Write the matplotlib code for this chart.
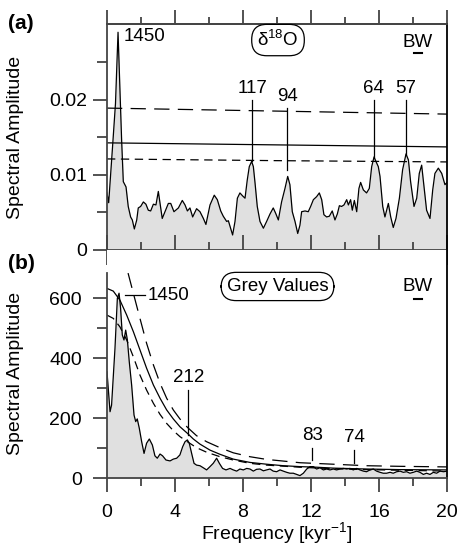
import matplotlib
matplotlib.use('Agg')
import matplotlib.pyplot as plt
from matplotlib.ticker import MultipleLocator

plt.rcParams['font.family'] = ['Liberation Sans', 'DejaVu Sans']
plt.rcParams['mathtext.fontset'] = 'custom'
plt.rcParams['mathtext.rm'] = 'Liberation Sans'
plt.rcParams['mathtext.it'] = 'Liberation Sans:italic'
plt.rcParams['lines.scale_dashes'] = False

# (a) d18O spectrum
freq_a = [0.0, 0.1, 0.2, 0.35, 0.5, 0.65, 0.78, 0.86, 0.96, 1.12, 1.25, 1.39, 1.49, 1.61, 1.75,
          1.84, 1.98, 2.14, 2.29, 2.43, 2.57, 2.73, 2.88, 3.02, 3.12, 3.25, 3.41, 3.61, 3.75,
          3.94, 4.2, 4.43, 4.59, 4.73, 4.88, 5.04, 5.27, 5.47, 5.67, 5.82, 6.06, 6.31, 6.49,
          6.69, 6.84, 7.04, 7.14, 7.27, 7.39, 7.53, 7.67, 7.82, 7.98, 8.12, 8.25, 8.37, 8.51,
          8.61, 8.71, 8.84, 9.0, 9.2, 9.39, 9.59, 9.78, 9.92, 10.08, 10.27, 10.47, 10.63, 10.76,
          10.9, 11.06, 11.22, 11.35, 11.45, 11.65, 11.84, 11.98, 12.14, 12.33, 12.49, 12.63,
          12.76, 12.92, 13.08, 13.25, 13.41, 13.55, 13.67, 13.8, 13.94, 14.1, 14.2, 14.33,
          14.43, 14.55, 14.69, 14.82, 14.92, 15.08, 15.27, 15.43, 15.57, 15.71, 15.82, 15.96,
          16.06, 16.22, 16.35, 16.55, 16.69, 16.84, 17.0, 17.2, 17.39, 17.59, 17.73, 17.86,
          18.06, 18.22, 18.37, 18.51, 18.65, 18.8, 19.0, 19.16, 19.29, 19.49, 19.69, 19.88, 20.0]
amp_a = [0.0076, 0.0063, 0.0095, 0.0145, 0.0195, 0.0290, 0.0200, 0.0147, 0.0091, 0.0084, 0.0058,
         0.0044, 0.0040, 0.0028, 0.0040, 0.0056, 0.0058, 0.0064, 0.0061, 0.0053, 0.0052, 0.0061,
         0.0060, 0.0078, 0.0062, 0.0042, 0.0051, 0.0062, 0.0062, 0.0051, 0.0056, 0.0066, 0.0060,
         0.0052, 0.0056, 0.0044, 0.0055, 0.0051, 0.0042, 0.0034, 0.0060, 0.0073, 0.0067, 0.0052,
         0.0045, 0.0038, 0.0039, 0.0029, 0.0020, 0.0038, 0.0069, 0.0076, 0.0072, 0.0069, 0.0093,
         0.0111, 0.0118, 0.0111, 0.0089, 0.0058, 0.0038, 0.0029, 0.0038, 0.0048, 0.0056, 0.0049,
         0.0040, 0.0064, 0.0082, 0.0098, 0.0087, 0.0051, 0.0038, 0.0022, 0.0033, 0.0051, 0.0052,
         0.0051, 0.0058, 0.0067, 0.0071, 0.0076, 0.0067, 0.0047, 0.0044, 0.0045, 0.0052, 0.0040,
         0.0048, 0.0059, 0.0058, 0.0060, 0.0067, 0.0060, 0.0067, 0.0053, 0.0066, 0.0051, 0.0082,
         0.0090, 0.0080, 0.0076, 0.0082, 0.0111, 0.0124, 0.0118, 0.0111, 0.0098, 0.0058, 0.0044,
         0.0062, 0.0044, 0.0030, 0.0042, 0.0069, 0.0107, 0.0128, 0.0120, 0.0091, 0.0058, 0.0069,
         0.0102, 0.0113, 0.0084, 0.0053, 0.0042, 0.0080, 0.0102, 0.0109, 0.0102, 0.0087, 0.0090]
noise_freq_a = [0, 10, 20]
noise_a = [0.01427, 0.0140, 0.01373]
upper_a = [0.0189, 0.0185, 0.0181]
lower_a = [0.01213, 0.0119, 0.01173]
peaks_a = [('117', 8.55, 0.0119, 0.0200), ('94', 10.6, 0.0107, 0.0189),
           ('64', 15.7, 0.0124, 0.0200), ('57', 17.6, 0.0128, 0.0200)]

# (b) grey value spectrum
freq_b = [0.0, 0.18, 0.27, 0.47, 0.61, 0.71, 0.8, 0.9, 1.0, 1.1, 1.2, 1.31, 1.45, 1.59, 1.69,
          1.78, 1.9, 2.04, 2.18, 2.33, 2.49, 2.67, 2.82, 2.96, 3.12, 3.27, 3.47, 3.71, 3.9, 4.1,
          4.29, 4.45, 4.59, 4.73, 4.84, 4.98, 5.12, 5.27, 5.47, 5.67, 5.86, 6.06, 6.25, 6.45,
          6.61, 6.8, 7.0, 7.24, 7.43, 7.63, 7.82, 8.02, 8.22, 8.41, 8.61, 8.8, 9.0, 9.2, 9.39,
          9.59, 9.78, 9.98, 10.18, 10.37, 10.57, 10.76, 10.96, 11.16, 11.35, 11.55, 11.75, 11.94,
          12.14, 12.33, 12.53, 12.73, 12.92, 13.12, 13.31, 13.51, 13.7, 13.9, 14.1, 14.29, 14.49,
          14.69, 14.88, 15.08, 15.27, 15.47, 15.67, 15.86, 16.06, 16.25, 16.45, 16.65, 16.84,
          17.04, 17.24, 17.43, 17.63, 17.82, 18.02, 18.22, 18.41, 18.61, 18.8, 19.0, 19.2, 19.39,
          19.59, 19.8, 20.0]
amp_b = [354, 221, 243, 432, 599, 616, 566, 477, 460, 493, 460, 388, 310, 210, 188, 197, 166,
         121, 82, 116, 130, 110, 74, 66, 80, 74, 60, 57, 63, 66, 77, 104, 121, 127, 116, 82, 49,
         43, 41, 34, 27, 38, 49, 66, 49, 32, 27, 32, 27, 23, 30, 27, 32, 30, 23, 29, 30, 24, 27,
         30, 23, 21, 27, 23, 19, 16, 16, 12, 8, 16, 30, 38, 38, 30, 34, 27, 30, 27, 30, 27, 30,
         32, 30, 32, 27, 32, 27, 23, 21, 27, 30, 23, 19, 16, 16, 19, 16, 21, 23, 19, 21, 16, 19,
         23, 19, 12, 16, 12, 19, 16, 23, 21, 23]
noise_freq_b = [0.0, 0.37, 0.76, 1.16, 1.55, 1.94, 2.33, 2.73, 3.12, 3.51, 3.9, 4.29, 4.73,
                5.08, 5.47, 6.06, 6.65, 7.43, 8.41, 9.39, 10.37, 11.35, 12.33, 13.31, 15.27,
                17.2, 20.0]
noise_b = [632, 623, 593, 543, 488, 427, 366, 310, 266, 227, 197, 171, 149, 130, 113, 93, 79,
           63, 52, 46, 41, 38, 36, 33, 30, 28, 27]
lower_freq_b = [0.0, 0.37, 0.76, 1.16, 1.55, 1.94, 2.33, 2.73, 3.12, 3.51, 3.9, 4.29, 4.73,
                5.27, 5.86, 6.65, 7.43, 8.41, 9.39, 11.35, 13.31, 15.27, 17.2, 20.0]
lower_b = [543, 532, 504, 460, 404, 343, 293, 249, 212, 182, 158, 138, 121, 101, 86, 71, 60,
           49, 43, 36, 31, 28, 26, 23]
upper_freq_b = [1.24, 1.55, 1.94, 2.33, 2.73, 3.12, 3.51, 3.9, 4.29, 4.73, 5.27, 5.86, 6.65,
                7.43, 8.41, 9.39, 11.35, 13.31, 15.27, 17.2, 20.0]
upper_b = [683, 616, 532, 449, 377, 316, 266, 227, 197, 169, 141, 121, 101, 84, 71, 62, 51,
           46, 41, 39, 37]
peaks_b = [('212', 4.78, 143, 293), ('83', 12.08, 60, 100), ('74', 14.53, 50, 93)]

bw_center = 18.3
bw_width = 0.5

FS = 14
AFS = 13.5
SPINE = '#444444'
FILL = '#e0e0e0'
LONG = (0, (11, 6))
SHORT = (0, (6, 4))
BOX = dict(boxstyle='round,pad=0.3,rounding_size=0.8', fc='white', ec='black', lw=0.9)

fig = plt.figure(figsize=(4.57, 5.48), dpi=100)
ax1 = fig.add_axes([0.2341, 0.5438, 0.7440, 0.4124])
ax2 = fig.add_axes([0.2341, 0.1277, 0.7440, 0.4161])

for ax in (ax1, ax2):
  ax.set_xlim(0, 20)
  ax.xaxis.set_major_locator(MultipleLocator(4))
  ax.xaxis.set_minor_locator(MultipleLocator(2))
  for s in ('left', 'top', 'bottom'):
    ax.spines[s].set_color(SPINE)
    ax.spines[s].set_linewidth(1.3)
  ax.spines['right'].set_linewidth(1.3)
  ax.tick_params(colors=SPINE, labelcolor='black', labelsize=FS, width=1.3)
  ax.tick_params(which='minor', colors=SPINE, width=1.3)
  ax.set_ylabel('Spectral Amplitude', fontsize=FS)

# panel a
ax1.fill_between(freq_a, amp_a, 0, color=FILL, lw=0)
ax1.plot(freq_a, amp_a, color='black', lw=0.9)
ax1.plot(noise_freq_a, noise_a, color='black', lw=0.9)
ax1.plot(noise_freq_a, upper_a, color='black', lw=0.9, linestyle=LONG)
ax1.plot(noise_freq_a, lower_a, color='black', lw=0.9, linestyle=SHORT)
ax1.set_ylim(0, 0.0301)
ax1.set_yticks([0, 0.01, 0.02], ['0', '0.01', '0.02'])
ax1.set_yticks([0.005, 0.015, 0.025], minor=True)
ax1.tick_params(axis='y', which='major', direction='out', length=10, pad=4)
ax1.tick_params(axis='y', which='minor', direction='out', length=7)
ax1.tick_params(axis='x', which='major', direction='inout', length=22, labelbottom=False)
ax1.tick_params(axis='x', which='minor', direction='inout', length=11)
ax1.yaxis.set_label_coords(-0.245, 0.5)

top = ax1.secondary_xaxis('top')
top.xaxis.set_major_locator(MultipleLocator(4))
top.xaxis.set_minor_locator(MultipleLocator(2))
top.spines['top'].set_color(SPINE)
top.spines['top'].set_linewidth(1.3)
top.tick_params(which='major', direction='out', length=10, width=1.3, colors=SPINE,
                labeltop=False)
top.tick_params(which='minor', direction='out', length=5, width=1.3, colors=SPINE)

ax1.text(0.95, 0.0285, '1450', fontsize=AFS, ha='left', va='center')
for label, f, y0, y1 in peaks_a:
  ax1.plot([f, f], [y0, y1], color='black', lw=0.9)
  ax1.text(f, y1 + 0.0004, label, fontsize=AFS, ha='center', va='bottom')
ax1.text(10.06, 0.929, r'δ$^{18}$O', transform=ax1.get_xaxis_transform(), fontsize=AFS,
         ha='center', va='center', bbox=BOX)
ax1.text(18.3, 0.92, 'BW', transform=ax1.get_xaxis_transform(), fontsize=AFS,
         ha='center', va='center')
ax1.plot([bw_center - bw_width / 2, bw_center + bw_width / 2], [0.0262, 0.0262],
         color='black', lw=1.5)

# panel b
ax2.fill_between(freq_b, amp_b, 0, color=FILL, lw=0)
ax2.plot(freq_b, amp_b, color='black', lw=0.9)
ax2.plot(noise_freq_b, noise_b, color='black', lw=0.9)
ax2.plot(upper_freq_b, upper_b, color='black', lw=0.9, linestyle=LONG)
ax2.plot(lower_freq_b, lower_b, color='black', lw=0.9, linestyle=SHORT)
ax2.set_ylim(0, 760)
ax2.spines['top'].set_visible(False)
ax2.spines['left'].set_bounds(0, 683)
ax2.set_yticks([0, 200, 400, 600])
ax2.set_yticks([100, 300, 500], minor=True)
ax2.tick_params(axis='y', which='major', direction='out', length=10, pad=8)
ax2.tick_params(axis='y', which='minor', direction='out', length=7)
ax2.tick_params(axis='x', which='major', direction='out', length=10, pad=9)
ax2.tick_params(axis='x', which='minor', direction='out', length=6)
ax2.yaxis.set_label_coords(-0.245, 0.46)
ax2.set_xlabel('Frequency [kyr$^{-1}$]', fontsize=FS, labelpad=-1)
ax2.plot([1.06, 2.24], [610, 610], color='black', lw=0.9)
ax2.text(2.4, 610, '1450', fontsize=AFS, ha='left', va='center')
for label, f, y0, y1 in peaks_b:
  ax2.plot([f, f], [y0, y1], color='black', lw=0.9)
  ax2.text(f, y1 + 15, label, fontsize=AFS, ha='center', va='bottom')
ax2.text(10.03, 0.84, 'Grey Values', transform=ax2.get_xaxis_transform(), fontsize=AFS,
         ha='center', va='center', bbox=BOX)
ax2.text(18.3, 0.84, 'BW', transform=ax2.get_xaxis_transform(), fontsize=AFS,
         ha='center', va='center')
ax2.plot([bw_center - bw_width / 2, bw_center + bw_width / 2], [597, 597],
         color='black', lw=1.5)

fig.text(0.046, 0.958, '(a)', fontsize=FS + 1, fontweight='bold', ha='center', va='center')
fig.text(0.046, 0.52, '(b)', fontsize=FS + 1, fontweight='bold', ha='center', va='center')

fig.savefig('out.png', dpi=100)
